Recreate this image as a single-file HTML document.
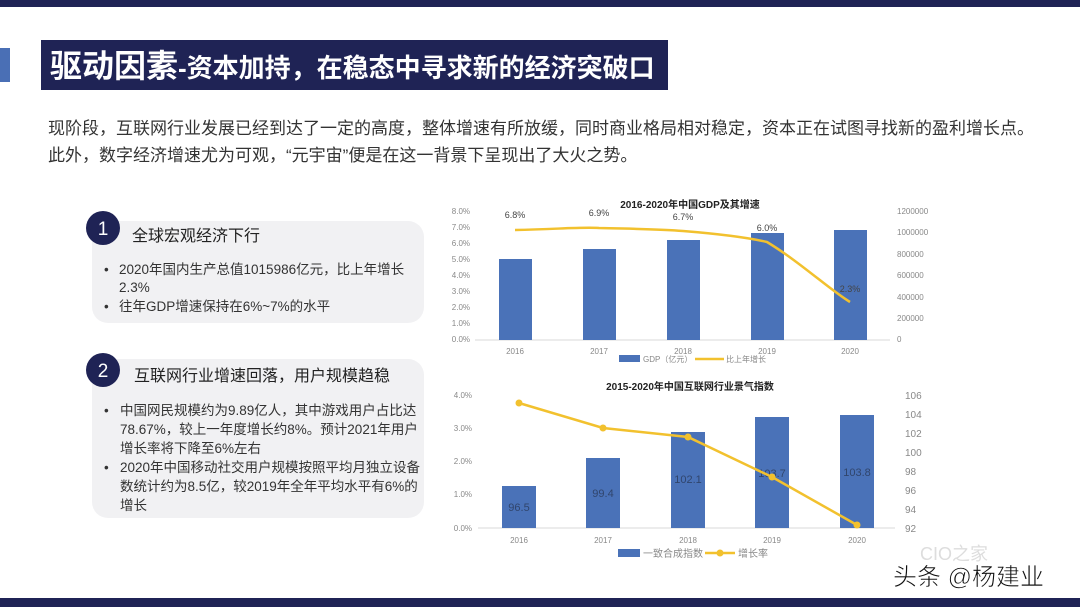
<!DOCTYPE html>
<html><head><meta charset="utf-8"><style>
body{margin:0;width:1080px;height:607px;overflow:hidden;background:#fff;font-family:"Liberation Sans","Noto Sans CJK SC",sans-serif;}
</style></head><body>
<svg width="1080" height="607" xmlns="http://www.w3.org/2000/svg" font-family="Liberation Sans, Noto Sans CJK SC, sans-serif">
<rect x="0" y="0" width="1080" height="7" fill="#1f2355"/>
<rect x="0" y="598" width="1080" height="9" fill="#1f2355"/>
<rect x="0" y="48" width="10" height="34" fill="#4a6fb5"/>
<rect x="41" y="40" width="627" height="50" fill="#1f2355"/>
<text x="50" y="77" fill="#fff" font-size="32" font-weight="bold">驱动因素<tspan font-size="26">-资本加持，在稳态中寻求新的经济突破口</tspan></text>
<text x="48" y="134" font-size="17" fill="#333">现阶段，互联网行业发展已经到达了一定的高度，整体增速有所放缓，同时商业格局相对稳定，资本正在试图寻找新的盈利增长点。</text>
<text x="48" y="161" font-size="17" fill="#333">此外，数字经济增速尤为可观，“元宇宙”便是在这一背景下呈现出了大火之势。</text>
<!-- card1 -->
<rect x="92" y="221" width="332" height="102" rx="16" fill="#f1f1f3"/>
<circle cx="103" cy="228" r="17" fill="#1f2355"/>
<text x="103" y="235" font-size="19" fill="#fff" text-anchor="middle">1</text>
<text x="132" y="241" font-size="16" fill="#222">全球宏观经济下行</text>
<g font-size="13.5" fill="#333">
<text x="104" y="274">•</text><text x="119" y="274">2020年国内生产总值1015986亿元，比上年增长</text>
<text x="119" y="292">2.3%</text>
<text x="104" y="311">•</text><text x="119" y="311">往年GDP增速保持在6%~7%的水平</text>
</g>
<!-- card2 -->
<rect x="92" y="359" width="332" height="159" rx="16" fill="#f1f1f3"/>
<circle cx="103" cy="370" r="17" fill="#1f2355"/>
<text x="103" y="377" font-size="19" fill="#fff" text-anchor="middle">2</text>
<text x="134" y="381" font-size="16" fill="#222">互联网行业增速回落，用户规模趋稳</text>
<g font-size="13.5" fill="#333">
<text x="104" y="415">•</text><text x="120" y="415">中国网民规模约为9.89亿人，其中游戏用户占比达</text>
<text x="120" y="434">78.67%，较上一年度增长约8%。预计2021年用户</text>
<text x="120" y="453">增长率将下降至6%左右</text>
<text x="104" y="472">•</text><text x="120" y="472">2020年中国移动社交用户规模按照平均月独立设备</text>
<text x="120" y="491">数统计约为8.5亿，较2019年全年平均水平有6%的</text>
<text x="120" y="510">增长</text>
</g>
<!-- chart1 -->
<text x="690" y="208" font-size="10" font-weight="bold" text-anchor="middle" fill="#222">2016-2020年中国GDP及其增速</text>
<g font-size="8" fill="#888" text-anchor="end">
<text x="470" y="214">8.0%</text><text x="470" y="230">7.0%</text><text x="470" y="246">6.0%</text><text x="470" y="262">5.0%</text><text x="470" y="278">4.0%</text><text x="470" y="294">3.0%</text><text x="470" y="310">2.0%</text><text x="470" y="326">1.0%</text><text x="470" y="342">0.0%</text>
</g>
<g font-size="8" fill="#888">
<text x="897" y="214">1200000</text><text x="897" y="235">1000000</text><text x="897" y="257">800000</text><text x="897" y="278">600000</text><text x="897" y="300">400000</text><text x="897" y="321">200000</text><text x="897" y="342">0</text>
</g>
<line x1="475" y1="340" x2="890" y2="340" stroke="#d9d9d9"/>
<g fill="#4a72b8">
<rect x="499" y="259" width="33" height="81"/><rect x="583" y="249" width="33" height="91"/><rect x="667" y="240" width="33" height="100"/><rect x="751" y="233" width="33" height="107"/><rect x="834" y="230" width="33" height="110"/>
</g>
<path d="M515 230 C560 229,580 227,599 228 C640 229,660 229,683 231 C720 234,750 238,767 242 C800 262,830 290,850 302" fill="none" stroke="#f2c12e" stroke-width="2.5"/>
<g font-size="9" fill="#444" text-anchor="middle">
<text x="515" y="218">6.8%</text><text x="599" y="216">6.9%</text><text x="683" y="220">6.7%</text><text x="767" y="231">6.0%</text><text x="850" y="292">2.3%</text>
</g>
<g font-size="8" fill="#888" text-anchor="middle">
<text x="515" y="354">2016</text><text x="599" y="354">2017</text><text x="683" y="354">2018</text><text x="767" y="354">2019</text><text x="850" y="354">2020</text>
</g>
<rect x="619" y="355" width="21" height="7" fill="#4a72b8"/>
<text x="643" y="362" font-size="8" fill="#888">GDP（亿元）</text>
<line x1="695" y1="359" x2="724" y2="359" stroke="#f2c12e" stroke-width="2.5"/>
<text x="726" y="362" font-size="8" fill="#888">比上年增长</text>
<!-- chart2 -->
<text x="690" y="390" font-size="10" font-weight="bold" text-anchor="middle" fill="#222">2015-2020年中国互联网行业景气指数</text>
<g font-size="8" fill="#888" text-anchor="end">
<text x="472" y="398">4.0%</text><text x="472" y="431">3.0%</text><text x="472" y="464">2.0%</text><text x="472" y="497">1.0%</text><text x="472" y="531">0.0%</text>
</g>
<g font-size="10" fill="#888">
<text x="905" y="399">106</text><text x="905" y="418">104</text><text x="905" y="437">102</text><text x="905" y="456">100</text><text x="905" y="475">98</text><text x="905" y="494">96</text><text x="905" y="513">94</text><text x="905" y="532">92</text>
</g>
<line x1="478" y1="528" x2="895" y2="528" stroke="#d9d9d9"/>
<g fill="#4a72b8">
<rect x="502" y="486" width="34" height="42"/><rect x="586" y="458" width="34" height="70"/><rect x="671" y="432" width="34" height="96"/><rect x="755" y="417" width="34" height="111"/><rect x="840" y="415" width="34" height="113"/>
</g>
<g font-size="11" fill="#2a3a5a" text-anchor="middle" opacity="0.8">
<text x="519" y="511">96.5</text><text x="603" y="497">99.4</text><text x="688" y="483">102.1</text><text x="772" y="477">103.7</text><text x="857" y="476">103.8</text>
</g>
<polyline points="519,403 603,428 688,437 772,477 857,525" fill="none" stroke="#f2c12e" stroke-width="2.5"/>
<g fill="#f2c12e"><circle cx="519" cy="403" r="3.5"/><circle cx="603" cy="428" r="3.5"/><circle cx="688" cy="437" r="3.5"/><circle cx="772" cy="477" r="3.5"/><circle cx="857" cy="525" r="3.5"/></g>
<g font-size="8" fill="#888" text-anchor="middle">
<text x="519" y="543">2016</text><text x="603" y="543">2017</text><text x="688" y="543">2018</text><text x="772" y="543">2019</text><text x="857" y="543">2020</text>
</g>
<rect x="618" y="549" width="22" height="8" fill="#4a72b8"/>
<text x="643" y="557" font-size="10" fill="#888">一致合成指数</text>
<line x1="705" y1="553" x2="735" y2="553" stroke="#f2c12e" stroke-width="2.5"/>
<circle cx="720" cy="553" r="3.5" fill="#f2c12e"/>
<text x="738" y="557" font-size="10" fill="#888">增长率</text>
<!-- watermark -->
<text x="920" y="560" font-size="18" fill="#ddd">CIO之家</text>
<text x="893" y="585" font-size="24" fill="#111" stroke="#fff" stroke-width="0.6">头条 @杨建业</text>
</svg>
</body></html>
